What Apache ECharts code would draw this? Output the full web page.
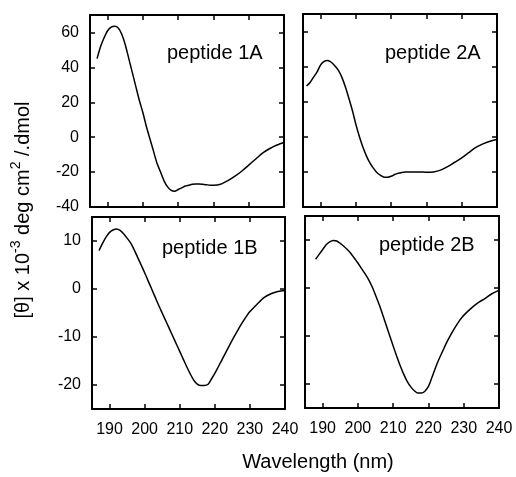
<!DOCTYPE html>
<html><head><meta charset="utf-8">
<script src="https://cdn.jsdelivr.net/npm/echarts@6/dist/echarts.min.js"></script>
<style>html,body{margin:0;padding:0;background:#fff}#c{width:516px;height:477px}</style>
</head><body><div id="c"></div>
<script>
const panelNames = ['peptide 1A', 'peptide 2A', 'peptide 1B', 'peptide 2B'];
const xTicks = [190, 200, 210, 220, 230, 240];
const yTicksTop = [-40, -20, 0, 20, 40, 60];
const yTicksBottom = [-20, -10, 0, 10];
const xTitle = 'Wavelength (nm)';

const wl1A = [187,188,189,190,191,192,193,194,195,196,197,198,199,200,201,202,203,204,205,206,207,208,209,210,211,212,213,214,215,216,217,218,219,220,222,224,226,228,230,232,234,236,238,240];
const th1A = [45,52,57,61,63,63.5,62.5,59,53,45,37,29,21,14,6,-1,-8,-15,-20,-25,-28.5,-30.5,-31,-30,-29,-28,-27.5,-27,-26.8,-26.8,-27,-27.2,-27.5,-27.5,-27,-25,-22.5,-19.5,-16,-12.5,-9,-6.5,-4.5,-3];

const wl2A = [186,187,188,189,190,191,192,193,194,195,196,197,198,199,200,201,202,203,204,205,206,207,208,209,210,211,212,213,214,216,218,220,222,224,226,228,230,232,234,236,238,240];
const th2A = [29,31,34,37,41,43,43.5,42.5,40.5,38,34,28.5,22,15,7,0,-6,-11,-15,-18,-20.5,-22,-23,-23,-22.5,-21.5,-20.8,-20.3,-20,-20,-20,-20.2,-20,-19,-17,-14.5,-12,-9,-6,-4,-2.5,-1.5];

const wl1B = [187,188,189,190,191,192,193,194,195,196,197,198,199,200,201,202,203,204,205,206,207,208,209,210,211,212,213,214,215,216,217,218,219,220,221,222,223,224,225,226,227,228,229,230,232,234,236,238,240];
const th1B = [8,9.5,10.8,11.8,12.3,12.5,12.2,11.5,10.6,9.6,8.2,6.6,5,3.4,1.7,0,-1.7,-3.4,-5,-6.6,-8.2,-9.8,-11.4,-13,-14.6,-16.2,-17.7,-19,-19.8,-20.1,-20.1,-19.9,-18.8,-17.6,-16.2,-14.8,-13.4,-12,-10.6,-9.3,-8,-6.8,-5.7,-4.7,-3.2,-1.8,-1,-0.5,-0.3];

const wl2B = [188,189,190,191,192,193,194,195,196,197,198,199,200,201,202,203,204,205,206,207,208,209,210,211,212,213,214,215,216,217,218,219,220,221,222,223,224,225,226,227,228,229,230,232,234,236,238,240];
const th2B = [6,7,8,9,9.6,9.9,9.8,9.3,8.7,8,7.2,6.2,5.2,4.1,3,1.8,0.3,-1.5,-3.4,-5.5,-7.7,-9.9,-12.1,-14.2,-16.2,-18,-19.5,-20.6,-21.4,-21.9,-21.9,-21.5,-20.5,-18.6,-16.6,-14.8,-13.2,-11.6,-10.2,-8.9,-7.7,-6.6,-5.7,-4.3,-3.1,-2.2,-1.2,-0.5];

const FONT = '"Liberation Sans", Arial, Helvetica, sans-serif';
const grids = [
  {left: 90, top: 15, width: 194, height: 192},
  {left: 303, top: 14, width: 194, height: 193},
  {left: 92, top: 217, width: 193, height: 192},
  {left: 305, top: 216, width: 194, height: 192}
];
const panels = [
  {wl: wl1A, th: th1A, yMin: -40, yMax: 70, yTicks: yTicksTop, showX: false, showY: true, title: [167, 53]},
  {wl: wl2A, th: th2A, yMin: -40, yMax: 70, yTicks: yTicksTop, showX: false, showY: false, title: [385, 53]},
  {wl: wl1B, th: th1B, yMin: -25, yMax: 15, yTicks: yTicksBottom, showX: true, showY: true, title: [162, 248]},
  {wl: wl2B, th: th2B, yMin: -25, yMax: 15, yTicks: yTicksBottom, showX: true, showY: false, title: [379, 245]}
];

const lineStyle = {color: '#000', width: 2};
const tickStyle = {color: '#000', width: 1.5};
const xAxis = [], yAxis = [], series = [], graphic = [];
panels.forEach((p, i) => {
  ['bottom', 'top'].forEach(pos => {
    const lab = pos === 'bottom' && p.showX;
    xAxis.push({
      gridIndex: i, type: 'value', min: 185, max: 240, position: pos,
      axisLine: {show: true, onZero: false, lineStyle},
      axisTick: {show: true, inside: true, length: 5, customValues: xTicks, lineStyle: tickStyle},
      axisLabel: {show: lab, customValues: xTicks, margin: 13, fontSize: 16, color: '#000', fontFamily: FONT},
      splitLine: {show: false}
    });
  });
  ['left', 'right'].forEach(pos => {
    const lab = pos === 'left' && p.showY;
    yAxis.push({
      gridIndex: i, type: 'value', min: p.yMin, max: p.yMax, position: pos,
      axisLine: {show: true, onZero: false, lineStyle},
      axisTick: {show: true, inside: true, length: 5, customValues: p.yTicks, lineStyle: tickStyle},
      axisLabel: {show: lab, customValues: p.yTicks, margin: 11, fontSize: 16, color: '#000', fontFamily: FONT},
      splitLine: {show: false}
    });
  });
  series.push({
    type: 'line', xAxisIndex: i * 2, yAxisIndex: i * 2,
    data: p.wl.map((w, k) => [w, p.th[k]]),
    symbol: 'none', smooth: 0.25,
    lineStyle: {color: '#000', width: 1.5}
  });
  graphic.push({
    type: 'text', x: p.title[0], y: p.title[1],
    style: {text: panelNames[i], fill: '#000', fontSize: 20, fontFamily: FONT, textAlign: 'left', textVerticalAlign: 'middle'}
  });
});

graphic.push({
  type: 'text', x: 318, y: 462,
  style: {text: xTitle, fill: '#000', fontSize: 20, fontFamily: FONT, textAlign: 'center', textVerticalAlign: 'middle'}
});
graphic.push({
  type: 'text', x: 23, y: 210, rotation: Math.PI / 2,
  style: {
    text: '{n|[θ] x 10}{s|-3}{n| deg cm}{s|2}{n| /.dmol}',
    fill: '#000', fontFamily: FONT, fontSize: 20,
    align: 'center', verticalAlign: 'middle',
    rich: {
      n: {fontSize: 20, lineHeight: 28, fontFamily: FONT, fill: '#000'},
      s: {fontSize: 14, lineHeight: 14, verticalAlign: 'top', fontFamily: FONT, fill: '#000'}
    }
  }
});

const chart = echarts.init(document.getElementById('c'), null, {renderer: 'canvas'});
chart.setOption({
  animation: false,
  backgroundColor: '#fff',
  grid: grids.map(g => Object.assign({containLabel: false}, g)),
  xAxis, yAxis, series, graphic
});
</script></body></html>
